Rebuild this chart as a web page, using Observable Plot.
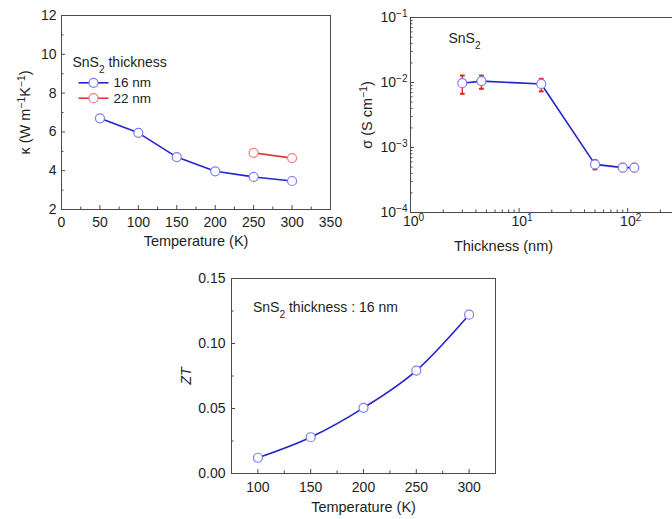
<!DOCTYPE html>
<html>
<head>
<meta charset="utf-8">
<script src="https://cdn.jsdelivr.net/npm/d3@7"></script>
<script src="https://cdn.jsdelivr.net/npm/@observablehq/plot@0.6"></script>
<style>
html, body { margin: 0; padding: 0; background: #fff; overflow: hidden; }
#wrap { position: relative; width: 672px; height: 519px; overflow: hidden; background: #fff; }
</style>
</head>
<body>
<div id="wrap"></div>
<script>
// ---------- Data: panel a (thermal conductivity) ----------
const tempK16 = [50, 100, 150, 200, 250, 300];
const kappa16 = [6.70, 5.95, 4.70, 3.97, 3.68, 3.47];
const tempK22 = [250, 300];
const kappa22 = [4.92, 4.65];
const seriesNames = ["16 nm", "22 nm"];
const kappaXTicks = [0, 50, 100, 150, 200, 250, 300, 350];
const kappaXMinor = [25, 75, 125, 175, 225, 275, 325];
const kappaYTicks = [2, 4, 6, 8, 10, 12];
const kappaYMinor = [3, 5, 7, 9, 11];

// ---------- Data: panel b (electrical conductivity vs thickness) ----------
const thicknessNm = [3, 4.5, 16, 50, 90, 115];
const sigmaVal = [0.00975, 0.0105, 0.0095, 0.00055, 0.00049, 0.00049];
const sigmaHi = [0.0128, 0.0128, 0.0114, 0.00064, 0.00056, 0.00056];
const sigmaLo = [0.0067, 0.0080, 0.0073, 0.00046, 0.00043, 0.00043];
const sigmaXTicks = [1, 10, 100];
const sigmaXMinor = [2, 3, 4, 5, 6, 7, 8, 9, 20, 30, 40, 50, 60, 70, 80, 90, 200];
const sigmaYTicks = [1e-4, 1e-3, 1e-2, 1e-1];
const sigmaYMinor = [2e-4, 3e-4, 4e-4, 5e-4, 6e-4, 7e-4, 8e-4, 9e-4,
                     2e-3, 3e-3, 4e-3, 5e-3, 6e-3, 7e-3, 8e-3, 9e-3,
                     2e-2, 3e-2, 4e-2, 5e-2, 6e-2, 7e-2, 8e-2, 9e-2];

// ---------- Data: panel c (ZT) ----------
const tempZT = [100, 150, 200, 250, 300];
const ztVal = [0.0121, 0.0279, 0.0505, 0.0792, 0.1222];
const ztXTicks = [100, 150, 200, 250, 300];
const ztXMinor = [125, 175, 225, 275];
const ztYTicks = [0, 0.05, 0.10, 0.15];
const ztYMinor = [0.025, 0.075, 0.125];

// ---------- Styling ----------
const FONT = '"Liberation Sans", Arial, Helvetica, sans-serif';
const BLUE = "#2424c8", BLUE_MK = "#7e7ef0";
const RED = "#e03a3a", RED_MK = "#ef7f7f", ERR = "#e02424";
const AXC = "#4a4a4a", TXT = "#1e1e1e";
const TICK_FS = 14, LABEL_FS = 14.5, NOTE_FS = 14;

const rows16 = tempK16.map((t, i) => ({t, k: kappa16[i]}));
const rows22 = tempK22.map((t, i) => ({t, k: kappa22[i]}));
const rowsS = thicknessNm.map((t, i) => ({t, s: sigmaVal[i], hi: sigmaHi[i], lo: sigmaLo[i]}));
const rowsZ = tempZT.map((t, i) => ({t, z: ztVal[i]}));

const capSymbol = {draw(ctx, size) { const r = 2.4; ctx.moveTo(-r, 0); ctx.lineTo(r, 0); }};
const lineSymbol = {draw(ctx, size) { ctx.moveTo(-15, 0); ctx.lineTo(15, 0); }};

function boxAxes(o) {
  const blank = () => "";
  return [
    Plot.frame({stroke: AXC, strokeWidth: 1}),
    Plot.axisX(o.xMajor, {anchor: "bottom", tickSize: 4, dy: -4, tickFormat: blank, label: null, stroke: AXC}),
    Plot.axisX(o.xMinor, {anchor: "bottom", tickSize: 2.5, dy: -2.5, tickFormat: blank, label: null, stroke: AXC}),
    Plot.axisY(o.yMajor, {anchor: "left", tickSize: 4, dx: 4, tickFormat: blank, label: null, stroke: AXC}),
    Plot.axisY(o.yMinor, {anchor: "left", tickSize: 2.5, dx: 2.5, tickFormat: blank, label: null, stroke: AXC}),
    Plot.axisX(o.xMajor, {anchor: "bottom", tickSize: 0, tickPadding: o.xPad, tickFormat: o.xFormat, label: null, fontSize: TICK_FS, fill: TXT, dx: o.xdx || 0}),
    Plot.axisY(o.yMajor, {anchor: "left", tickSize: 0, tickPadding: o.yPad, tickFormat: o.yFormat, label: null, fontSize: TICK_FS, fill: TXT})
  ];
}

function richText(svg) {
  svg.querySelectorAll("text").forEach(t => {
    const s = t.textContent;
    if (!/[\^_]\{/.test(s)) return;
    t.textContent = "";
    for (const p of s.split(/([\^_]\{[^}]*\})/)) {
      if (!p) continue;
      const ts = document.createElementNS("http://www.w3.org/2000/svg", "tspan");
      const m = p.match(/^([\^_])\{([^}]*)\}$/);
      if (m) {
        ts.textContent = m[2];
        ts.setAttribute("font-size", "72%");
        ts.setAttribute("baseline-shift", m[1] === "^" ? "super" : "sub");
      } else {
        ts.textContent = p;
      }
      t.appendChild(ts);
    }
  });
}

function place(svg, left, top) {
  svg.style.position = "absolute";
  svg.style.left = left + "px";
  svg.style.top = top + "px";
  svg.style.maxWidth = "none";
  svg.style.overflow = "visible";
  richText(svg);
  document.getElementById("wrap").appendChild(svg);
}

const baseStyle = {fontFamily: FONT, fontSize: "13px", color: TXT, background: "transparent", overflow: "visible"};
const note = (s, dx, dy, fs) => Plot.text([s], {frameAnchor: "top-left", dx, dy, textAnchor: "start", lineAnchor: "middle", fontSize: fs || NOTE_FS, fill: TXT});

// ---------- Panel a ----------
const legendMarks = [];
[[BLUE, BLUE_MK], [RED, RED_MK]].forEach(([lc, mc], i) => {
  const dy = 67.3 + i * 15.4;
  legendMarks.push(
    Plot.dot([seriesNames[i]], {x: null, y: null, frameAnchor: "top-left", dx: 32, dy, symbol: lineSymbol, stroke: lc, strokeWidth: 1.6, fill: "none"}),
    Plot.dot([seriesNames[i]], {x: null, y: null, frameAnchor: "top-left", dx: 32, dy, r: 4.5, fill: "white", stroke: mc, strokeWidth: 1.2}),
    note(seriesNames[i], 52, dy, 13.5)
  );
});

const pA = Plot.plot({
  width: 348, height: 250,
  marginLeft: 61, marginRight: 18, marginTop: 15, marginBottom: 41,
  style: baseStyle,
  x: {domain: [0, 350]},
  y: {domain: [2, 12]},
  marks: [
    ...boxAxes({xMajor: kappaXTicks, xMinor: kappaXMinor, yMajor: kappaYTicks, yMinor: kappaYMinor,
                xPad: 8, yPad: 5, xFormat: d => String(d), yFormat: d => String(d)}),
    Plot.line(rows16, {x: "t", y: "k", stroke: BLUE, strokeWidth: 1.6}),
    Plot.line(rows22, {x: "t", y: "k", stroke: RED, strokeWidth: 1.6}),
    Plot.dot(rows16, {x: "t", y: "k", r: 4.5, fill: "white", stroke: BLUE_MK, strokeWidth: 1.2}),
    Plot.dot(rows22, {x: "t", y: "k", r: 4.5, fill: "white", stroke: RED_MK, strokeWidth: 1.2}),
    note("SnS_{2} thickness", 11, 46.7),
    ...legendMarks,
    Plot.text(["Temperature (K)"], {frameAnchor: "bottom", dy: 32, textAnchor: "middle", lineAnchor: "middle", fontSize: LABEL_FS, fill: TXT}),
    Plot.text(["κ (W m^{−1}K^{−1})"], {frameAnchor: "left", dx: -36, rotate: -90, textAnchor: "middle", lineAnchor: "middle", fontSize: LABEL_FS, fill: TXT})
  ]
});
place(pA, 0, 0);

// ---------- Panel b ----------
const expFmt = d => "10^{" + String(Math.round(Math.log10(d))).replace("-", "−") + "}";
const pB = Plot.plot({
  width: 340, height: 258,
  marginLeft: 70, marginRight: 1, marginTop: 17, marginBottom: 46,
  style: baseStyle,
  x: {type: "log", domain: [1, 300]},
  y: {type: "log", domain: [1e-4, 1e-1]},
  marks: [
    ...boxAxes({xMajor: sigmaXTicks, xMinor: sigmaXMinor, yMajor: sigmaYTicks, yMinor: sigmaYMinor,
                xPad: 4, yPad: 3, xFormat: expFmt, yFormat: expFmt, xdx: 3}),
    Plot.line(rowsS, {x: "t", y: "s", stroke: BLUE, strokeWidth: 1.6}),
    Plot.ruleX(rowsS, {x: "t", y1: "lo", y2: "hi", stroke: ERR, strokeWidth: 1.4}),
    Plot.dot(rowsS, {x: "t", y: "hi", symbol: capSymbol, stroke: ERR, strokeWidth: 2, fill: "none"}),
    Plot.dot(rowsS, {x: "t", y: "lo", symbol: capSymbol, stroke: ERR, strokeWidth: 2, fill: "none"}),
    Plot.dot(rowsS, {x: "t", y: "s", r: 4.5, fill: "white", stroke: BLUE_MK, strokeWidth: 1.2}),
    note("SnS_{2}", 38, 21),
    Plot.text(["Thickness (nm)"], {frameAnchor: "bottom-left", dx: 93, dy: 34, textAnchor: "middle", lineAnchor: "middle", fontSize: LABEL_FS, fill: TXT}),
    Plot.text(["σ (S cm^{−1})"], {frameAnchor: "left", dx: -43, rotate: -90, textAnchor: "middle", lineAnchor: "middle", fontSize: LABEL_FS, fill: TXT})
  ]
});
place(pB, 340, 0);

// ---------- Panel c ----------
const pC = Plot.plot({
  width: 340, height: 264,
  marginLeft: 61, marginRight: 15, marginTop: 23, marginBottom: 46,
  style: baseStyle,
  x: {domain: [75, 325]},
  y: {domain: [0, 0.15]},
  marks: [
    ...boxAxes({xMajor: ztXTicks, xMinor: ztXMinor, yMajor: ztYTicks, yMinor: ztYMinor,
                xPad: 9, yPad: 6, xFormat: d => String(d), yFormat: d3.format(".2f")}),
    Plot.line(rowsZ, {x: "t", y: "z", stroke: BLUE, strokeWidth: 1.6, curve: "monotone-x"}),
    Plot.dot(rowsZ, {x: "t", y: "z", r: 4.5, fill: "white", stroke: BLUE_MK, strokeWidth: 1.2}),
    note("SnS_{2} thickness : 16 nm", 21.5, 28.7),
    Plot.text(["Temperature (K)"], {frameAnchor: "bottom", dy: 33.7, textAnchor: "middle", lineAnchor: "middle", fontSize: LABEL_FS, fill: TXT}),
    Plot.text(["ZT"], {frameAnchor: "left", dx: -45, rotate: -90, textAnchor: "middle", lineAnchor: "middle", fontSize: LABEL_FS, fontStyle: "italic", fill: TXT})
  ]
});
place(pC, 170, 255);
</script>
</body>
</html>
